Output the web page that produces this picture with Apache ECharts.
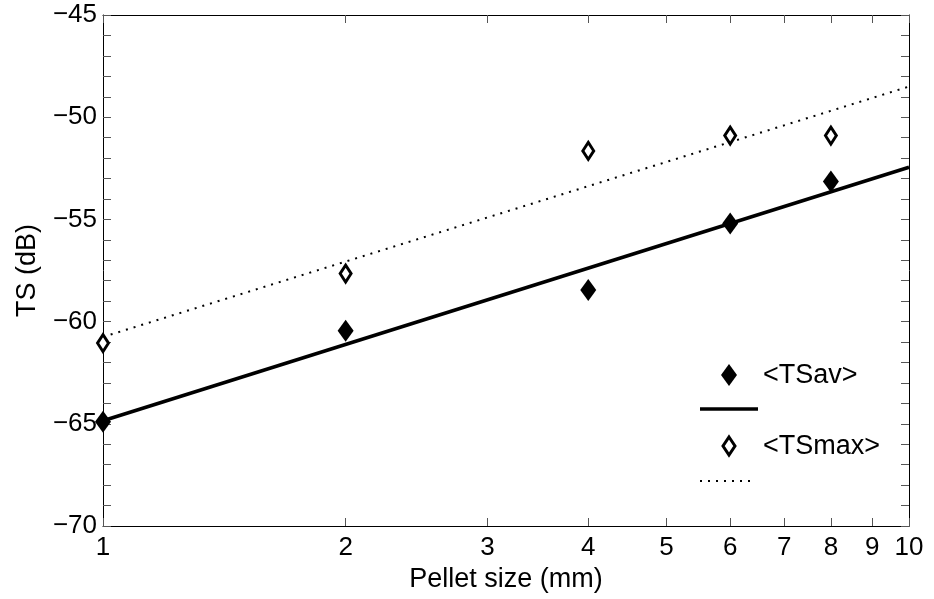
<!DOCTYPE html>
<html>
<head>
<meta charset="utf-8">
<script src="https://cdn.jsdelivr.net/npm/echarts@6/dist/echarts.min.js"></script>
<style>
  html, body { margin: 0; padding: 0; background: #fff; }
  #chart { width: 934px; height: 599px; }
</style>
</head>
<body>
<div id="chart"></div>
<script>
// pellet sizes (mm) and measured target strength (dB)
const sizes = [1, 2, 4, 6, 8]
const tsAv = [-64.9, -60.45, -58.45, -55.2, -53.15]
const tsMax = [-61.05, -57.65, -51.65, -50.9, -50.9]
// fitted lines, evaluated at the ends of the x range
const fitX = [1, 10]
const fitAv = [-64.85, -52.45]
const fitMax = [-60.75, -48.5]
const xTicks = [1, 2, 3, 4, 5, 6, 7, 8, 9, 10]

const font = 'Liberation Sans'
const minus = (v) => String(v).replace('-', '\u2212')

const chart = echarts.init(document.getElementById('chart'))

const pairs = (xs, ys) => xs.map((x, i) => [x, ys[i]])

const xBase = {
  type: 'log',
  logBase: 10,
  min: 1,
  max: 10,
  axisLine: { show: true, lineStyle: { color: '#000', width: 1 } },
  axisTick: { show: true, inside: true, length: 8, customValues: xTicks, lineStyle: { color: '#555', width: 1 } },
  splitLine: { show: false },
  minorTick: { show: false },
}

const yBase = {
  type: 'value',
  min: -70,
  max: -45,
  interval: 5,
  axisLine: { show: true, lineStyle: { color: '#000', width: 1 } },
  axisTick: { show: true, inside: true, length: 8, lineStyle: { color: '#555', width: 1 } },
  minorTick: { show: true, splitNumber: 5, length: 8, lineStyle: { color: '#555', width: 1 } },
  splitLine: { show: false },
}

const option = {
  animation: false,
  backgroundColor: '#fff',
  grid: { left: 103, right: 25, top: 15, bottom: 73 },
  xAxis: [
    Object.assign({}, xBase, {
      position: 'bottom',
      name: 'Pellet size (mm)',
      nameLocation: 'middle',
      nameGap: 38,
      nameTextStyle: { fontFamily: font, fontSize: 27, color: '#000' },
      axisLabel: {
        customValues: xTicks,
        margin: 9,
        fontFamily: font,
        fontSize: 26,
        color: '#000',
        formatter: (v) => String(Math.round(v)),
      },
    }),
    Object.assign({}, xBase, { position: 'top', axisLabel: { show: false } }),
  ],
  yAxis: [
    Object.assign({}, yBase, {
      position: 'left',
      name: 'TS (dB)',
      nameLocation: 'middle',
      nameGap: 62,
      nameTextStyle: { fontFamily: font, fontSize: 27, color: '#000' },
      axisLabel: { margin: 6, fontFamily: font, fontSize: 26, color: '#000', formatter: minus },
    }),
    Object.assign({}, yBase, { position: 'right', axisLabel: { show: false } }),
  ],
  series: [
    {
      name: 'fit <TSav>',
      type: 'line',
      data: pairs(fitX, fitAv),
      showSymbol: false,
      lineStyle: { color: '#000', width: 3.5 },
      z: 2,
    },
    {
      name: 'fit <TSmax>',
      type: 'line',
      data: pairs(fitX, fitMax),
      showSymbol: false,
      lineStyle: { color: '#000', width: 2, type: [2, 6] },
      z: 2,
    },
    {
      name: '<TSav>',
      type: 'scatter',
      data: pairs(sizes, tsAv),
      symbol: 'diamond',
      symbolSize: [16, 22],
      itemStyle: { color: '#000', opacity: 1 },
      z: 3,
    },
    {
      name: '<TSmax>',
      type: 'scatter',
      data: pairs(sizes, tsMax),
      symbol: 'diamond',
      symbolSize: [11, 17],
      itemStyle: { color: '#fff', borderColor: '#000', borderWidth: 3, opacity: 1 },
      z: 3,
    },
  ],
  // matlab style legend: marker row, then line row
  graphic: [
    { type: 'polygon', shape: { points: [[729, 364], [737, 375], [729, 386], [721, 375]] }, style: { fill: '#000' } },
    { type: 'text', left: 763, top: 362, style: { text: '<TSav>', font: '27px ' + font, fill: '#000' } },
    { type: 'line', shape: { x1: 700, y1: 409, x2: 758, y2: 409 }, style: { stroke: '#000', lineWidth: 3.5 } },
    { type: 'polygon', shape: { points: [[729, 437], [735, 446], [729, 455], [723, 446]] }, style: { fill: '#fff', stroke: '#000', lineWidth: 3 } },
    { type: 'text', left: 763, top: 433, style: { text: '<TSmax>', font: '27px ' + font, fill: '#000' } },
    { type: 'line', shape: { x1: 700, y1: 481, x2: 754, y2: 481 }, style: { stroke: '#000', lineWidth: 2, lineDash: [2, 6] } },
  ],
}

chart.setOption(option)
</script>
</body>
</html>
